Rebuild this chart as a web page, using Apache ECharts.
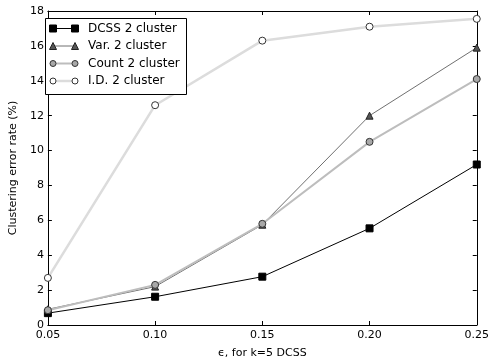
<!DOCTYPE html>
<html>
<head>
<meta charset="utf-8">
<script src="https://cdn.jsdelivr.net/npm/echarts@6/dist/echarts.min.js"></script>
<style>
  html, body { margin: 0; padding: 0; background: #fff; }
  #chart { width: 492px; height: 364px; }
</style>
</head>
<body>
<div id="chart"></div>
<script>
// Clustering error rate (%) versus epsilon, k=5 DCSS
const epsilons = [0.05, 0.10, 0.15, 0.20, 0.25];
const dcss2 = [0.68, 1.62, 2.77, 5.54, 9.2];
const var2 = [0.9, 2.2, 5.75, 12.0, 15.9];
const count2 = [0.85, 2.3, 5.8, 10.5, 14.1];
const id2 = [2.7, 12.6, 16.3, 17.1, 17.55];
const seriesNames = ['DCSS 2 cluster', 'Var. 2 cluster', 'Count 2 cluster', 'I.D. 2 cluster'];
const yTicks = [0, 2, 4, 6, 8, 10, 12, 14, 16, 18];

const FONT = 'DejaVu Sans';
const pairs = arr => epsilons.map((e, i) => [e, arr[i]]);

// Visual style per series: line colour/width and marker look
const styles = [
  { line: '#000', width: 1, symbol: 'rect', size: 7, fill: '#000', edge: '#000' },
  { line: '#707070', width: 1, symbol: 'triangle', size: 7, fill: '#555', edge: '#222' },
  { line: '#bdbdbd', width: 2, symbol: 'circle', size: 7, fill: '#a8a8a8', edge: '#333' },
  { line: '#dcdcdc', width: 2.5, symbol: 'circle', size: 7, fill: '#fff', edge: '#333' }
];
const values = [dcss2, var2, count2, id2];

const series = values.map((v, i) => ({
  name: seriesNames[i],
  type: 'line',
  data: pairs(v),
  symbol: styles[i].symbol,
  symbolSize: styles[i].size,
  showAllSymbol: true,
  lineStyle: { color: styles[i].line, width: styles[i].width },
  itemStyle: { color: styles[i].fill, borderColor: styles[i].edge, borderWidth: 1 },
  emphasis: { disabled: true },
  z: 2 + i,
  clip: false
}));

// Legend drawn as a boxed key with a line sample and two markers per row
const legendX = 45, legendY = 18, rowH = 17.5;
const legendEls = [{
  type: 'rect',
  shape: { x: legendX + 0.5, y: legendY + 0.5, width: 141, height: 76 },
  style: { fill: '#fff', stroke: '#000', lineWidth: 1 },
  z: 100
}];
function markerShape(st, cx, cy) {
  const s = st.size;
  if (st.symbol === 'rect') {
    return { type: 'rect', shape: { x: cx - s / 2, y: cy - s / 2, width: s, height: s },
      style: { fill: st.fill, stroke: st.edge, lineWidth: 1 }, z: 102 };
  }
  if (st.symbol === 'triangle') {
    return { type: 'polygon', shape: { points: [[cx, cy - s / 2], [cx + s / 2, cy + s / 2], [cx - s / 2, cy + s / 2]] },
      style: { fill: st.fill, stroke: st.edge, lineWidth: 1 }, z: 102 };
  }
  return { type: 'circle', shape: { cx: cx, cy: cy, r: s / 2 - 0.5 },
    style: { fill: st.fill, stroke: st.edge, lineWidth: 1 }, z: 102 };
}
seriesNames.forEach((name, i) => {
  const cy = legendY + 10.5 + i * rowH;
  const st = styles[i];
  legendEls.push({
    type: 'line',
    shape: { x1: 53, y1: cy, x2: 75, y2: cy },
    style: { stroke: st.line, lineWidth: st.width },
    z: 101
  });
  legendEls.push(markerShape(st, 53, cy));
  legendEls.push(markerShape(st, 75, cy));
  legendEls.push({
    type: 'text',
    x: 88, y: cy,
    style: { text: name, fill: '#000', fontFamily: FONT, fontSize: 12, verticalAlign: 'middle' },
    z: 102
  });
});

const tickFmt = v => v.toFixed(2);
const chart = echarts.init(document.getElementById('chart'), null, { renderer: 'canvas' });
chart.setOption({
  animation: false,
  backgroundColor: '#fff',
  grid: { left: 40, right: 13, top: 11, bottom: 34, containLabel: false },
  xAxis: [
    {
      type: 'value', min: 0.05, max: 0.25, interval: 0.05,
      name: 'ϵ, for k=5 DCSS', nameLocation: 'middle', nameGap: 23,
      nameTextStyle: { fontFamily: FONT, fontSize: 11, color: '#000' },
      axisLine: { show: true, onZero: false, lineStyle: { color: '#000', width: 1 } },
      axisTick: { show: true, inside: true, length: 4, lineStyle: { color: '#000' } },
      axisLabel: { formatter: tickFmt, fontFamily: FONT, fontSize: 11, color: '#000', margin: 5 },
      splitLine: { show: false }
    },
    {
      type: 'value', position: 'top', min: 0.05, max: 0.25, interval: 0.05,
      axisLine: { show: true, onZero: false, lineStyle: { color: '#000', width: 1 } },
      axisTick: { show: true, inside: true, length: 4, lineStyle: { color: '#000' } },
      axisLabel: { show: false },
      splitLine: { show: false }
    }
  ],
  yAxis: [
    {
      type: 'value', min: 0, max: 18, interval: 2,
      name: 'Clustering error rate (%)', nameLocation: 'middle', nameGap: 24,
      nameTextStyle: { fontFamily: FONT, fontSize: 11, color: '#000' },
      axisLine: { show: true, onZero: false, lineStyle: { color: '#000', width: 1 } },
      axisTick: { show: true, inside: true, length: 4, lineStyle: { color: '#000' } },
      axisLabel: { formatter: v => yTicks.includes(v) ? String(v) : '', fontFamily: FONT, fontSize: 11, color: '#000', margin: 4 },
      splitLine: { show: false }
    },
    {
      type: 'value', position: 'right', min: 0, max: 18, interval: 2,
      axisLine: { show: true, onZero: false, lineStyle: { color: '#000', width: 1 } },
      axisTick: { show: true, inside: true, length: 4, lineStyle: { color: '#000' } },
      axisLabel: { show: false },
      splitLine: { show: false }
    }
  ],
  series: series,
  graphic: legendEls
});
</script>
</body>
</html>
